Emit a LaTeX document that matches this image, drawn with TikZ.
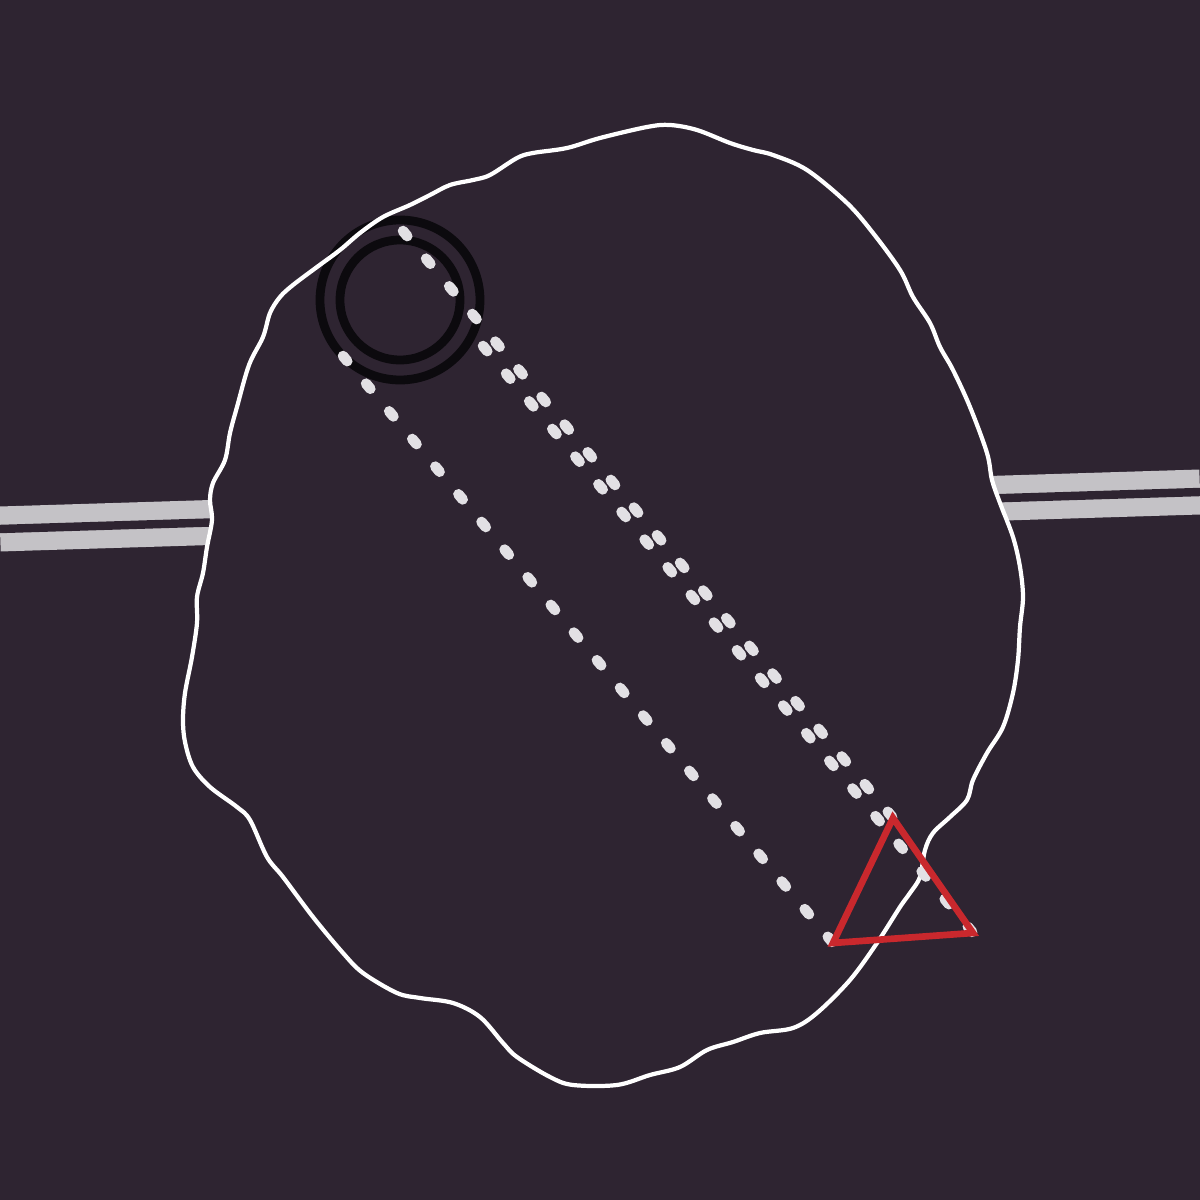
\documentclass[tikz,border=0pt]{standalone}
\usepackage{tikz}
\usetikzlibrary{arrows.meta,positioning}
\definecolor{NightBg}{HTML}{2E2431}
\definecolor{RailGrey}{HTML}{C4C2C6}
\definecolor{RingBlack}{HTML}{0C0A0E}
\definecolor{TrailWhite}{HTML}{E2E0E4}
\definecolor{MarkRed}{HTML}{C9282D}

\begin{document}
\begin{tikzpicture}[
  rail/.style={draw=RailGrey,line width=12.8pt},
  railgap/.style={draw=NightBg,line width=2.4pt},
  ring/.style={draw=RingBlack,line width=2.5pt},
  outline/.style={draw=white,line width=1.2pt},
  trail/.style={draw=TrailWhite,line width=3pt,line cap=round,
                dash pattern=on 1.9pt off 8.35pt},
  marker/.style={draw=MarkRed,line width=1.9pt}
]
  \fill[NightBg] (0,0) rectangle (12,12);
  \useasboundingbox (0,0) rectangle (12,12);

  % rails behind the blob
  \coordinate (railW) at (0,6.71);
  \coordinate (railE) at (12,7.08);
  \draw[rail] (railW) -- (railE);
  \draw[railgap] (railW) -- (railE);

  % wobbly region
  \path[save path=\blobshape] plot[smooth cycle,tension=0.55] coordinates {
    (6.70,10.75) (6.97,10.70) (7.30,10.57) (7.53,10.50) (7.73,10.45)
    (8.07,10.30) (8.47,9.97) (8.73,9.67) (9.00,9.30) (9.13,9.03)
    (9.30,8.77) (9.40,8.53) (9.53,8.30) (9.70,7.93) (9.87,7.47)
    (9.92,7.20) (10.00,6.97) (10.13,6.63) (10.20,6.33) (10.23,6.03)
    (10.20,5.73) (10.18,5.40) (10.13,5.07) (10.03,4.73) (9.87,4.47)
    (9.73,4.20) (9.67,4.00) (9.50,3.83) (9.33,3.67) (9.25,3.50)
    (9.20,3.23) (9.10,3.07) (9.00,2.93) (8.77,2.57) (8.50,2.20)
    (8.17,1.87) (7.93,1.72) (7.60,1.67) (7.33,1.58) (7.07,1.50)
    (6.80,1.33) (6.50,1.25) (6.17,1.15) (5.73,1.15) (5.50,1.23)
    (5.17,1.43) (5.03,1.57) (4.80,1.83) (4.53,1.97) (4.20,2.02)
    (3.97,2.07) (3.63,2.27) (3.43,2.47) (3.13,2.83) (2.83,3.23)
    (2.67,3.43) (2.50,3.80) (2.37,3.93) (2.10,4.13) (1.93,4.33)
    (1.85,4.58) (1.83,4.80) (1.85,5.07) (1.92,5.43) (1.97,5.77)
    (1.97,6.03) (2.03,6.27) (2.07,6.53) (2.12,6.80) (2.10,7.00)
    (2.13,7.17) (2.25,7.40) (2.30,7.67) (2.37,7.93) (2.49,8.35)
    (2.63,8.63) (2.70,8.87) (2.80,9.03) (2.93,9.15) (3.17,9.33)
    (3.40,9.50) (3.60,9.67) (3.83,9.83) (4.10,9.95) (4.30,10.05)
    (4.50,10.15) (4.73,10.20) (4.90,10.25) (5.17,10.42) (5.33,10.47)
    (5.67,10.52) (6.00,10.62) (6.47,10.73)};
  \fill[NightBg,use path=\blobshape];

  % double ring
  \coordinate (hub) at (4.00,9.00);
  \draw[ring] (hub) circle[radius=0.80];
  \draw[ring] (hub) circle[radius=0.60];

  \draw[outline,use path=\blobshape];

  % triangle corners and their sources
  \coordinate (tipTop)   at (8.93,3.82);
  \coordinate (tipRight) at (9.73,2.67);
  \coordinate (tipLeft)  at (8.33,2.57);
  \coordinate (srcTop)   at ([shift={(-4.90,5.87)}]tipTop);
  \coordinate (srcRight) at ([shift={(-4.90,5.87)}]tipRight);
  \coordinate (srcLeft)  at ([shift={(-4.90,5.87)}]tipLeft);

  \draw[trail] (srcTop) -- (tipTop);
  \draw[trail] (srcRight) -- (tipRight);
  \draw[trail] (srcLeft) -- (tipLeft);

  \draw[marker] (tipTop) -- (tipRight) -- (tipLeft) -- cycle;
\end{tikzpicture}
\end{document}
